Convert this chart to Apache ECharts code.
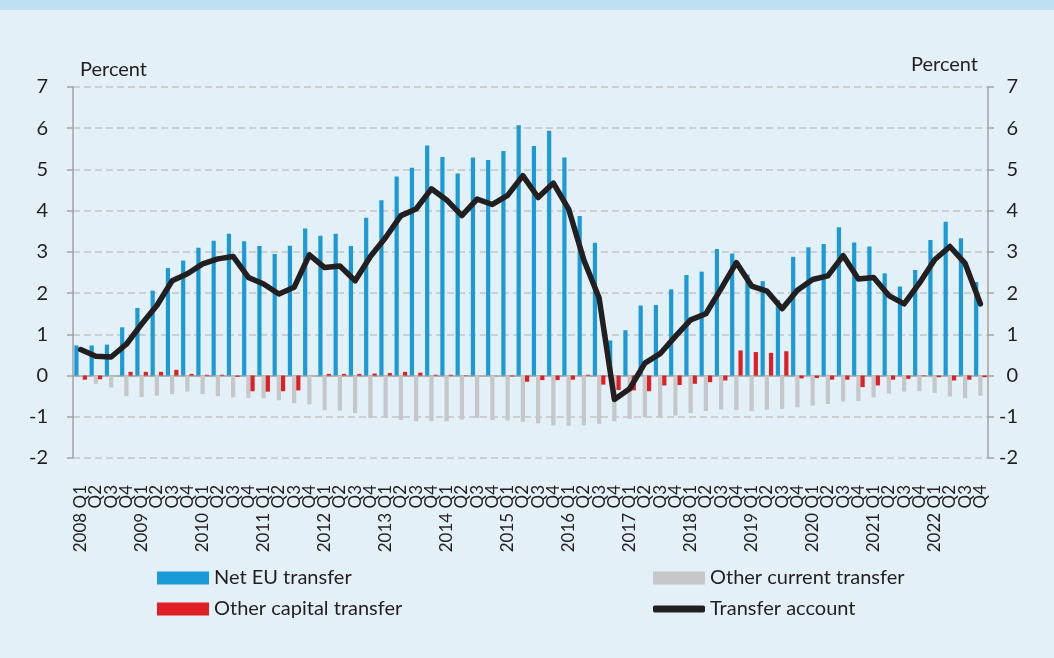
<!DOCTYPE html>
<html>
<head>
<meta charset="utf-8">
<script src="https://cdn.jsdelivr.net/npm/echarts@6/dist/echarts.min.js"></script>
<style>
  html, body { margin: 0; padding: 0; background: #e3f0f7; }
  #chart { width: 1054px; height: 658px; }
</style>
</head>
<body>
<div id="chart"></div>
<script>
// quarters 2008 Q1 .. 2022 Q4
const years = ['2008', '2009', '2010', '2011', '2012', '2013', '2014', '2015',
  '2016', '2017', '2018', '2019', '2020', '2021', '2022'];
const quarters = ['Q1', 'Q2', 'Q3', 'Q4'];
const categories = [];
years.forEach(y => quarters.forEach(q => categories.push(q === 'Q1' ? y + ' ' + q : q)));

const yTicks = [-2, -1, 0, 1, 2, 3, 4, 5, 6, 7];

const netEU = [
  0.73, 0.73, 0.75, 1.17, 1.64, 2.06, 2.61, 2.79, 3.10, 3.27, 3.44, 3.26,
  3.14, 2.95, 3.15, 3.57, 3.39, 3.44, 3.14, 3.83, 4.25, 4.83, 5.04, 5.58,
  5.30, 4.90, 5.29, 5.23, 5.45, 6.07, 5.57, 5.94, 5.29, 3.87, 3.22, 0.85,
  1.10, 1.70, 1.71, 2.09, 2.44, 2.52, 3.07, 2.96, 2.45, 2.29, 1.83, 2.88,
  3.11, 3.19, 3.60, 3.23, 3.13, 2.48, 2.16, 2.56, 3.29, 3.73, 3.33, 2.27
];
const otherCurrent = [
  -0.02, -0.20, -0.29, -0.50, -0.52, -0.49, -0.45, -0.39, -0.45, -0.50, -0.53, -0.54,
  -0.55, -0.60, -0.67, -0.70, -0.84, -0.85, -0.91, -1.03, -1.03, -1.08, -1.11, -1.11,
  -1.11, -1.07, -1.03, -1.08, -1.09, -1.12, -1.16, -1.21, -1.22, -1.21, -1.17, -1.11,
  -1.05, -1.01, -1.03, -0.97, -0.91, -0.86, -0.82, -0.84, -0.86, -0.83, -0.81, -0.77,
  -0.73, -0.69, -0.63, -0.62, -0.53, -0.44, -0.39, -0.38, -0.42, -0.51, -0.55, -0.49
];
const otherCapital = [
  -0.10, -0.09, 0, 0.09, 0.09, 0.09, 0.14, 0.04, 0.02, 0.02, -0.03, -0.38,
  -0.39, -0.38, -0.36, 0, 0.04, 0.04, 0.04, 0.05, 0.06, 0.09, 0.07, 0.02,
  0.02, 0.01, 0, 0, -0.02, -0.15, -0.11, -0.11, -0.10, 0.02, -0.22, -0.35,
  -0.36, -0.38, -0.24, -0.23, -0.20, -0.16, -0.12, 0.61, 0.57, 0.55, 0.59, -0.07,
  -0.06, -0.10, -0.10, -0.28, -0.24, -0.10, -0.08, -0.01, -0.04, -0.12, -0.10, -0.04
];
const transferAccount = [
  0.63, 0.47, 0.45, 0.76, 1.25, 1.70, 2.30, 2.47, 2.71, 2.83, 2.89, 2.38,
  2.22, 1.98, 2.14, 2.93, 2.62, 2.66, 2.30, 2.89, 3.35, 3.88, 4.04, 4.53,
  4.26, 3.88, 4.28, 4.15, 4.37, 4.85, 4.32, 4.67, 4.04, 2.80, 1.88, -0.58,
  -0.32, 0.30, 0.53, 0.95, 1.35, 1.50, 2.11, 2.74, 2.17, 2.05, 1.62, 2.07,
  2.33, 2.42, 2.91, 2.34, 2.38, 1.94, 1.74, 2.24, 2.81, 3.13, 2.72, 1.74
];

const FONT = 'Lato, "Open Sans", sans-serif';
const TEXT = '#231f20';
const AXIS = '#a3a3a3';
const BLUE = '#1a9ad6';
const GREY = '#c6c7c8';
const RED = '#e01e26';
const BLACK = '#231f20';

const chart = echarts.init(document.getElementById('chart'));

const legendBase = {
  orient: 'vertical',
  itemWidth: 52,
  itemHeight: 13,
  icon: 'rect',
  selectedMode: false,
  textStyle: { fontFamily: FONT, fontSize: 20, color: TEXT }
};

const yAxisBase = {
  type: 'value',
  min: yTicks[0],
  max: yTicks[yTicks.length - 1],
  interval: 1,
  axisLine: { show: true, lineStyle: { color: AXIS, width: 1.5 } },
  axisTick: { show: true, length: 6, lineStyle: { color: AXIS, width: 1.5 } }
};

const option = {
  backgroundColor: '#e3f0f7',
  animation: false,
  graphic: [
    { type: 'rect', left: 0, top: 0, shape: { width: 1054, height: 10 }, style: { fill: '#bde0f2' } }
  ],
  grid: { left: 73, right: 66, top: 87, height: 371 },
  legend: [
    Object.assign({}, legendBase, { data: ['Net EU transfer'], left: 152, top: 563 }),
    Object.assign({}, legendBase, { data: ['Other capital transfer'], left: 152, top: 594 }),
    Object.assign({}, legendBase, { data: ['Other current transfer'], left: 648, top: 563 }),
    Object.assign({}, legendBase, { data: ['Transfer account'], left: 648, top: 594,
      icon: 'roundRect', itemHeight: 7 })
  ],
  xAxis: [
    {
      type: 'category',
      data: categories,
      position: 'bottom',
      axisLine: { show: false, onZero: false },
      axisTick: { show: false },
      axisLabel: {
        interval: 0,
        rotate: 90,
        margin: 27,
        fontFamily: FONT,
        fontSize: 17,
        color: TEXT
      }
    },
    {
      type: 'category',
      data: categories,
      position: 'top',
      axisLine: { show: true, onZero: true, lineStyle: { color: AXIS, width: 1.5 } },
      axisTick: { show: false },
      axisLabel: { show: false }
    }
  ],
  yAxis: [
    Object.assign({}, yAxisBase, {
      position: 'left',
      name: 'Percent',
      nameLocation: 'end',
      nameGap: 7,
      nameTextStyle: { fontFamily: FONT, fontSize: 20, color: TEXT, align: 'left', padding: [0, 0, 0, 7] },
      splitLine: { show: true, lineStyle: { color: '#c4c4c4', width: 1.5, type: [7, 4] } },
      axisLabel: { fontFamily: FONT, fontSize: 20, color: TEXT, margin: 25, align: 'right' }
    }),
    Object.assign({}, yAxisBase, {
      position: 'right',
      name: 'Percent',
      nameLocation: 'end',
      nameGap: 12,
      nameTextStyle: { fontFamily: FONT, fontSize: 20, color: TEXT, align: 'right', padding: [0, 10, 0, 0] },
      splitLine: { show: false },
      axisLabel: { fontFamily: FONT, fontSize: 20, color: TEXT, margin: 30, align: 'right' }
    })
  ],
  series: [
    {
      name: 'Net EU transfer',
      type: 'bar',
      data: netEU,
      barWidth: 4.2,
      barGap: '0%',
      itemStyle: { color: BLUE }
    },
    {
      name: 'Other current transfer',
      type: 'bar',
      data: otherCurrent,
      barWidth: 4.2,
      barGap: '0%',
      itemStyle: { color: GREY }
    },
    {
      name: 'Other capital transfer',
      type: 'bar',
      data: otherCapital,
      barWidth: 4.2,
      barGap: '0%',
      itemStyle: { color: RED }
    },
    {
      name: 'Transfer account',
      type: 'line',
      data: transferAccount,
      showSymbol: false,
      symbol: 'none',
      z: 5,
      itemStyle: { color: BLACK },
      lineStyle: { color: BLACK, width: 5.5, cap: 'round', join: 'round' }
    }
  ]
};

chart.setOption(option);
</script>
</body>
</html>
